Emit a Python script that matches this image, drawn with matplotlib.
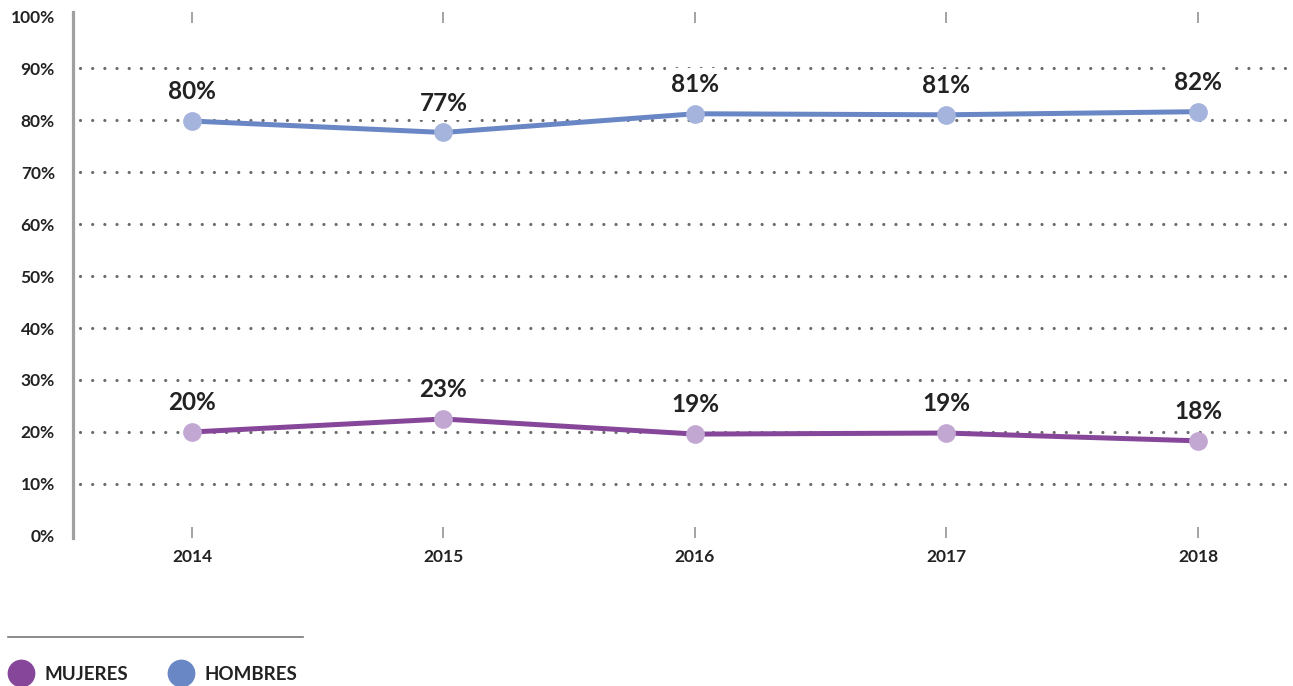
import matplotlib
matplotlib.use('Agg')
import matplotlib.pyplot as plt

plt.rcParams['font.family'] = ['Lato', 'DejaVu Sans']

years = [2014, 2015, 2016, 2017, 2018]
hombres = [79.8, 77.6, 81.2, 81.0, 81.6]
mujeres = [20.0, 22.5, 19.6, 19.8, 18.3]
hombres_labels = ['80%', '77%', '81%', '81%', '82%']
mujeres_labels = ['20%', '23%', '19%', '19%', '18%']
yticks = list(range(0, 101, 10))

c_hom_line, c_hom_dot = '#6a87c5', '#a5b4dd'
c_muj_line, c_muj_dot = '#86479a', '#c3a7d3'
c_text = '#222222'

W, H = 1293, 686
fig = plt.figure(figsize=(W / 100, H / 100), dpi=100)
ax = fig.add_axes([73 / W, 1 - 538 / H, (1290 - 73) / W, (538 - 12) / H])

ax.set_xlim(2013.527, 2018.366)
ax.set_ylim(-0.385, 100.77)

# dotted gridlines
for v in yticks[1:-1]:
    ax.axhline(v, xmin=0.006, xmax=1, color='#6b6b6b', lw=2.3,
               linestyle=(0, (0.01, 3.8)), dash_capstyle='round', zorder=1)

for vals, labs, cl, cd in [(hombres, hombres_labels, c_hom_line, c_hom_dot),
                           (mujeres, mujeres_labels, c_muj_line, c_muj_dot)]:
    ax.plot(years, vals, color=cl, lw=3.6, zorder=3, solid_capstyle='round')
    ax.plot(years, vals, 'o', color=cd, ms=13.5, mec='none', zorder=4)
    for x, y, t in zip(years, vals, labs):
        ax.annotate(t, (x, y), xytext=(0, 21), textcoords='offset points',
                    ha='center', va='center', fontsize=17.5, fontweight='bold',
                    color=c_text, zorder=5,
                    bbox=dict(boxstyle='square,pad=0.2', fc='white', ec='none'))

for s in ['top', 'right', 'bottom']:
    ax.spines[s].set_visible(False)
ax.spines['left'].set_color('#a0a0a0')
ax.spines['left'].set_linewidth(2.3)

ax.set_yticks(yticks)
ax.set_yticklabels([f'{v}%' for v in yticks])
ax.tick_params(axis='y', length=0, pad=13, labelsize=12.5, labelcolor=c_text)
ax.set_xticks(years)
ax.set_xticklabels([str(y) for y in years])
ax.tick_params(axis='x', direction='in', top=True, bottom=True, length=8,
               width=1.1, color='#8a8a8a', pad=8, labelsize=12.5, labelcolor=c_text)
for lab in ax.get_xticklabels() + ax.get_yticklabels():
    lab.set_fontweight('bold')

# legend
lax = fig.add_axes([0, 0, 1, 1], facecolor='none')
lax.set_xlim(0, W)
lax.set_ylim(H, 0)
lax.axis('off')
lax.plot([8, 303], [637, 637], color='#777777', lw=1.2)
for x, c, name in [(21, c_muj_line, 'MUJERES'), (181, c_hom_line, 'HOMBRES')]:
    lax.plot([x], [673], 'o', color=c, ms=20, mec='none')
    lax.text(x + 24, 674, name, ha='left', va='center', fontsize=13.5,
             fontweight='bold', color=c_text)

fig.savefig('out.png', dpi=100)
